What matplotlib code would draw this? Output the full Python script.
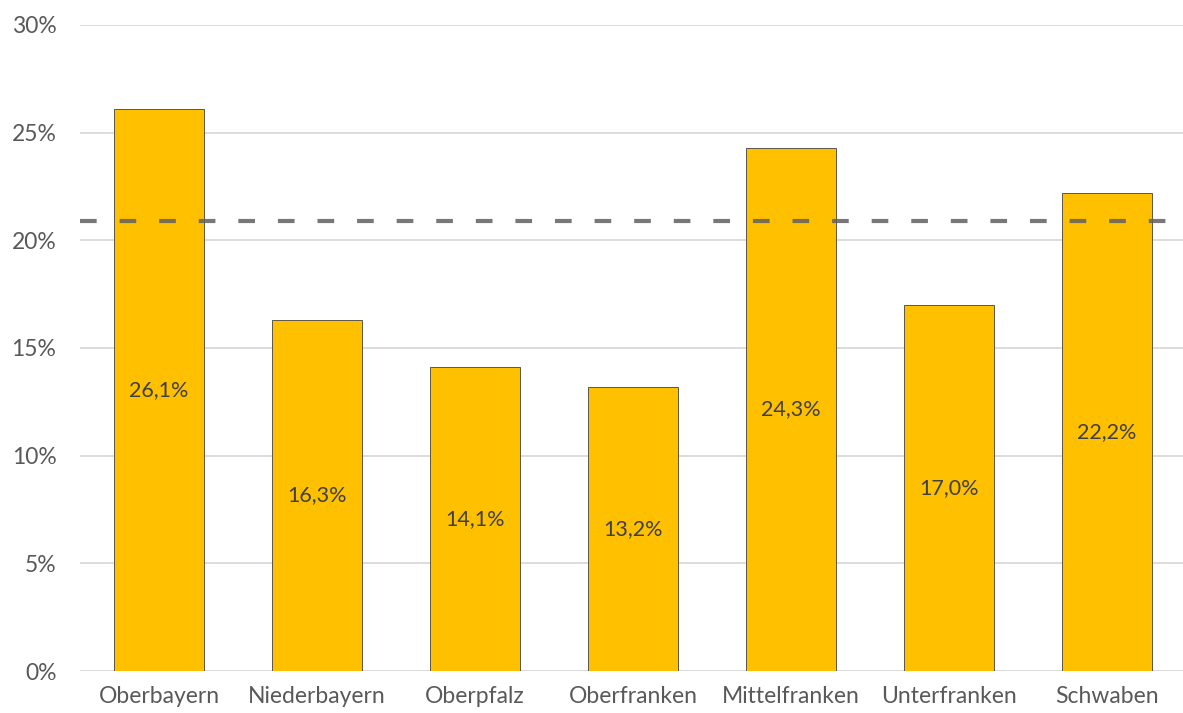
import matplotlib
matplotlib.use('Agg')
import matplotlib.pyplot as plt
from matplotlib import ticker

regions = ['Oberbayern', 'Niederbayern', 'Oberpfalz', 'Oberfranken',
           'Mittelfranken', 'Unterfranken', 'Schwaben']
shares = [26.1, 16.3, 14.1, 13.2, 24.3, 17.0, 22.2]
average = 20.9
yticks = [0, 5, 10, 15, 20, 25, 30]

plt.rcParams['font.family'] = ['Lato', 'DejaVu Sans']

fig = plt.figure(figsize=(11.83, 7.13), dpi=100)
ax = fig.add_axes([80 / 1183, 1 - 671 / 713, 1106 / 1183, 646 / 713])

x = list(range(len(regions)))
ax.bar(x, shares, width=0.57, color='#FFC000', edgecolor='#404040',
       linewidth=0.6, zorder=3)

for xi, v in zip(x, shares):
    ax.text(xi, v / 2, f'{v:.1f}%'.replace('.', ','), ha='center', va='center',
            fontsize=15.5, color='#404040', zorder=4)

ax.axhline(average, color='#606060', alpha=0.85, linewidth=3,
           dashes=(4, 5.5), zorder=5, clip_on=False)

ax.set_xlim(-0.5, len(regions) - 0.5)
ax.set_ylim(0, 30)
ax.set_yticks(yticks)
ax.yaxis.set_major_formatter(ticker.FuncFormatter(lambda v, p: f'{v:.0f}%'))
ax.set_xticks(x)
ax.set_xticklabels(regions)
ax.grid(axis='y', color='#D9D9D9', linewidth=1.3, zorder=0)
ax.set_axisbelow(True)
for s in ax.spines.values():
    s.set_visible(False)
ax.tick_params(axis='both', length=0, labelsize=16.5, colors='#595959')
ax.tick_params(axis='y', pad=17)
ax.tick_params(axis='x', pad=11)

plt.savefig('out.png', dpi=100)
